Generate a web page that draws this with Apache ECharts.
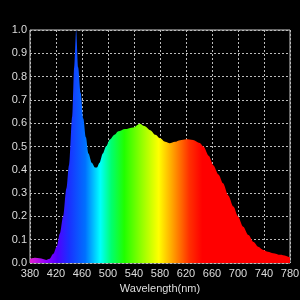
<!DOCTYPE html>
<html>
<head>
<meta charset="utf-8">
<script src="https://cdn.jsdelivr.net/npm/echarts@6/dist/echarts.min.js"></script>
<style>
  html, body { margin: 0; padding: 0; background: #000; }
  #chart { width: 300px; height: 300px; }
</style>
</head>
<body>
<div id="chart"></div>
<script>
  // wavelength (nm) and relative intensity
  var wavelengths = [380, 388, 395, 405, 410, 416, 421, 426, 431, 436, 440, 445, 448, 451, 454, 458, 462, 466, 470, 475, 480, 483, 487, 492, 497, 503, 510, 516, 526, 539, 549, 556, 565, 573, 580, 588, 595, 603, 611, 620, 631, 641, 647, 655, 662, 670, 677, 685, 693, 700, 708, 716, 724, 731, 739, 746, 754, 765, 780];
  var intensity = [0.018, 0.022, 0.02, 0.013, 0.018, 0.04, 0.07, 0.127, 0.2, 0.32, 0.42, 0.63, 0.84, 1.0, 0.84, 0.73, 0.62, 0.54, 0.47, 0.43, 0.41, 0.41, 0.43, 0.47, 0.5, 0.53, 0.55, 0.565, 0.575, 0.582, 0.598, 0.588, 0.57, 0.55, 0.535, 0.52, 0.514, 0.52, 0.527, 0.531, 0.528, 0.515, 0.5, 0.46, 0.42, 0.38, 0.342, 0.29, 0.242, 0.2, 0.156, 0.12, 0.09, 0.07, 0.056, 0.048, 0.042, 0.035, 0.024];
  var xTicks = [380, 420, 460, 500, 540, 580, 620, 660, 700, 740, 780];
  // spectrum colours at wavelengths
  var stopNm = [380, 405, 422, 440, 465, 488, 505, 525, 555, 578, 600, 625, 645, 780];
  var stopColor = ['#e020d0', '#9000ff', '#5000ff', '#1a30ff', '#0070ff', '#00ffff', '#00ff70', '#20ff00', '#a0ff00', '#ffff00', '#ffa000', '#ff3000', '#ff0000', '#ff0000'];

  var dom = echarts.init(document.getElementById('chart'));
  var data = [];
  for (var i = 0; i < wavelengths.length; i++) {
    data.push([wavelengths[i], intensity[i]]);
  }
  var stops = [];
  stopNm.forEach(function (v, k) {
    stops.push({offset: (v - xTicks[0]) / (xTicks[xTicks.length - 1] - xTicks[0]), color: stopColor[k]});
  });
  var labelFont = {color: '#dddddd', fontSize: 11, fontFamily: 'Liberation Sans'};

  var option = {
    backgroundColor: '#000',
    animation: false,
    grid: {
      left: 30, right: 10, top: 30, bottom: 37,
      containLabel: false,
      outerBoundsMode: 'none',
      show: true,
      borderColor: '#cccccc',
      borderWidth: 1
    },
    xAxis: {
      type: 'value',
      min: 380,
      max: 780,
      interval: 40,
      name: 'Wavelength(nm)',
      nameLocation: 'middle',
      nameGap: 15,
      nameTextStyle: labelFont,
      axisLine: {show: false},
      axisTick: {show: false},
      axisLabel: {color: '#dddddd', fontSize: 11, fontFamily: 'Liberation Sans', margin: 5},
      splitLine: {show: true, lineStyle: {color: '#bbbbbb', type: [2, 2], width: 1}}
    },
    yAxis: {
      type: 'value',
      min: 0,
      max: 1,
      interval: 0.1,
      name: 'Relative Intensität',
      nameLocation: 'middle',
      nameGap: 20,
      nameTextStyle: labelFont,
      axisLine: {show: false},
      axisTick: {show: false},
      axisLabel: {
        color: '#dddddd', fontSize: 11, fontFamily: 'Liberation Sans', margin: 3,
        formatter: function (v) { return v.toFixed(1); }
      },
      splitLine: {show: true, lineStyle: {color: '#bbbbbb', type: [2, 2], width: 1}}
    },
    series: [{
      type: 'line',
      data: data,
      smooth: 0.3,
      smoothMonotone: 'x',
      symbol: 'none',
      lineStyle: {width: 0},
      areaStyle: {
        opacity: 1,
        color: {type: 'linear', x: 0, y: 0, x2: 1, y2: 0, colorStops: stops}
      }
    }]
  };
  dom.setOption(option);
</script>
</body>
</html>
